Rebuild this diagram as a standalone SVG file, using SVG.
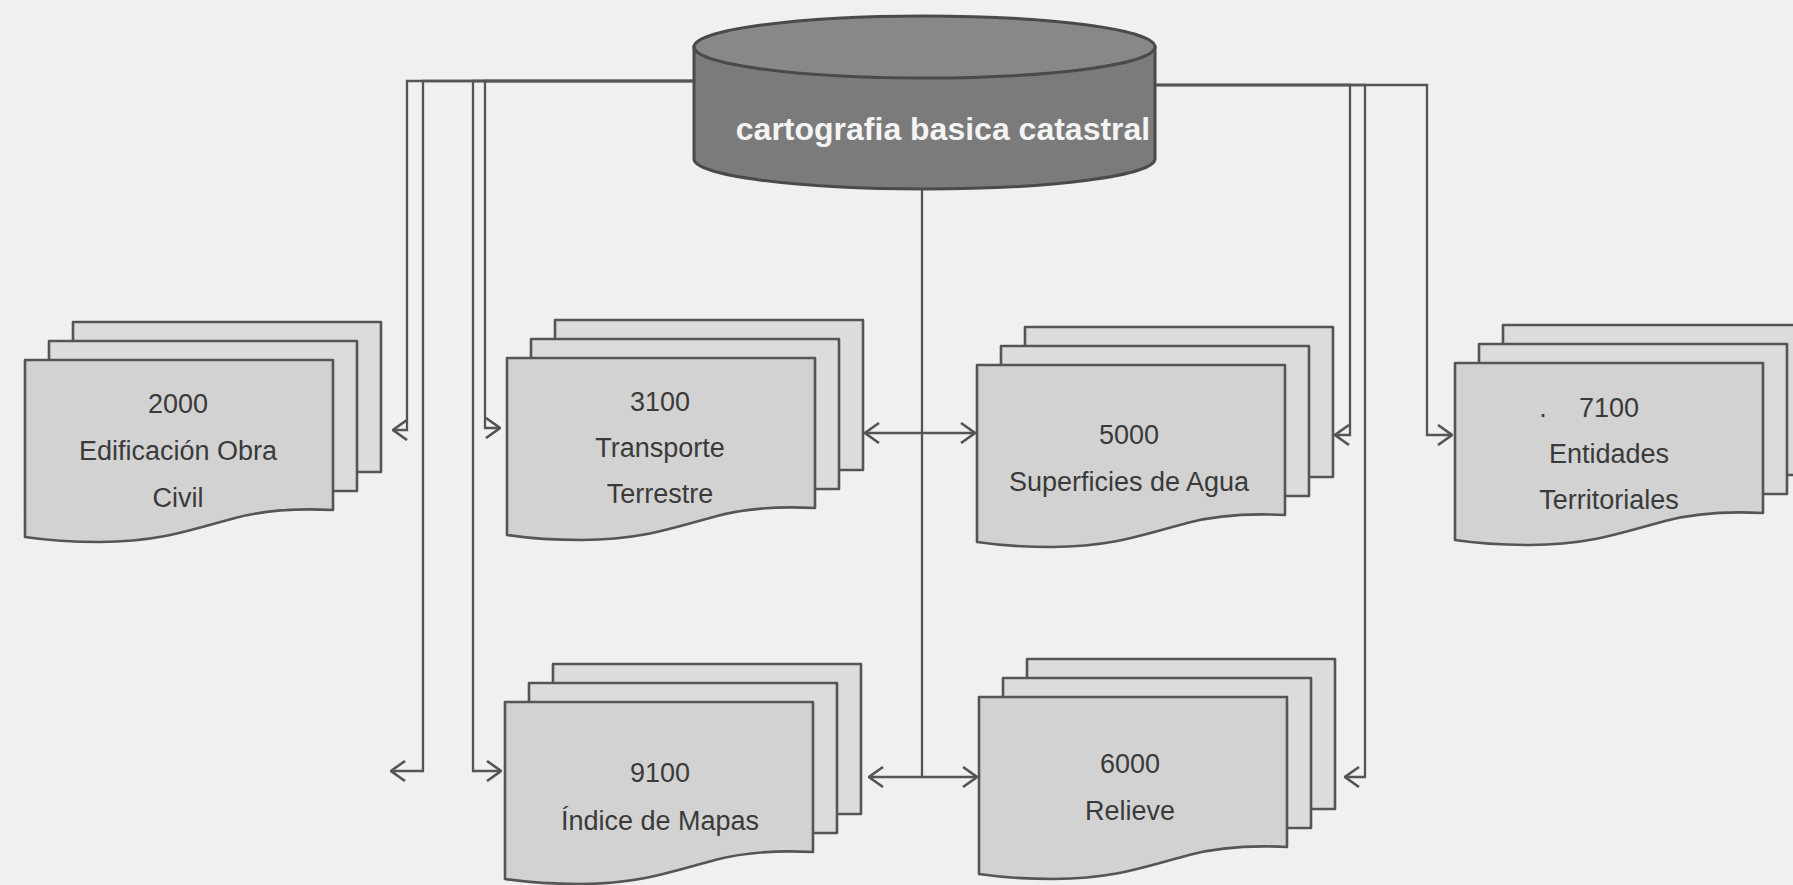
<svg xmlns="http://www.w3.org/2000/svg" width="1793" height="885" viewBox="0 0 1793 885">
<style>
.bg{fill:#f0f0f3}
.sheet{stroke:#555;stroke-width:2.6;stroke-linejoin:round}
.back{fill:#dcdcdc}
.front{fill:#d2d2d2}
.blue .back{fill:#e0e1e6}
.blue .front{fill:#d7d8de}
.lbl{font-family:"Liberation Sans",Arial,sans-serif;font-size:27px;fill:#3a3a3a;text-anchor:middle}
.conn path{fill:none;stroke:#555;stroke-width:2.3}
.title{font-family:"Liberation Sans",Arial,sans-serif;font-size:32px;font-weight:bold;fill:#f4f4f4;text-anchor:middle}
</style>
<defs>
<marker id="arr" viewBox="0 0 16 22" markerWidth="16" markerHeight="22" refX="15" refY="11" orient="auto" markerUnits="userSpaceOnUse">
<path d="M1,1 L15,11 L1,21" fill="none" stroke="#555" stroke-width="2.6"/>
</marker>
<g id="stack">
<rect class="sheet back" x="48" y="-38" width="308" height="150"/>
<rect class="sheet back" x="24" y="-19" width="308" height="150"/>
<path class="sheet front" d="M0,0 H308 V150 C270,148 240,150 210,158 C160,172 130,182 75,182 C45,182 20,180 0,177 Z"/>
</g>
</defs>
<rect class="bg" x="0" y="0" width="1793" height="885"/>

<g id="connectors" class="conn">
<path d="M694,81 H407 V430 H393" marker-end="url(#arr)"/>
<path d="M694,81 H423 V771 H391" marker-end="url(#arr)"/>
<path d="M694,81 H485 V428 H500" marker-end="url(#arr)"/>
<path d="M694,81 H473 V771 H501" marker-end="url(#arr)"/>
<path d="M1155,85 H1350 V435 H1335" marker-end="url(#arr)"/>
<path d="M1155,85 H1365 V777 H1345" marker-end="url(#arr)"/>
<path d="M1155,85 H1427 V435 H1452" marker-end="url(#arr)"/>
<path d="M922,189 V777"/>
<path d="M922,433 H865" marker-end="url(#arr)"/>
<path d="M922,433 H975" marker-end="url(#arr)"/>
<path d="M922,777 H869" marker-end="url(#arr)"/>
<path d="M922,777 H977" marker-end="url(#arr)"/>
</g>

<g id="cartografia">
<path d="M694,47 V159 A230.5,30 0 0 0 1155,159 V47 Z" fill="#7b7b7b" stroke="#4a4a4a" stroke-width="3"/>
<ellipse cx="924.5" cy="47" rx="230.5" ry="31" fill="#888" stroke="#4a4a4a" stroke-width="3"/>
<text class="title" x="943" y="140">cartografia basica catastral</text>
</g>

<g id="n2000">
<use href="#stack" transform="translate(25,360)"/>
<text class="lbl" x="178" y="413">2000</text>
<text class="lbl" x="178" y="460">Edificación Obra</text>
<text class="lbl" x="178" y="507">Civil</text>
</g>

<g id="n3100">
<use href="#stack" transform="translate(507,358)"/>
<text class="lbl" x="660" y="411">3100</text>
<text class="lbl" x="660" y="457">Transporte</text>
<text class="lbl" x="660" y="503">Terrestre</text>
</g>

<g id="n5000" class="blue">
<use href="#stack" transform="translate(977,365)"/>
<text class="lbl" x="1129" y="444">5000</text>
<text class="lbl" x="1129" y="491">Superficies de Agua</text>
</g>

<g id="n7100">
<use href="#stack" transform="translate(1455,363)"/>
<text class="lbl" x="1609" y="417"><tspan x="1543">.</tspan><tspan x="1609">7100</tspan></text>
<text class="lbl" x="1609" y="463">Entidades</text>
<text class="lbl" x="1609" y="509">Territoriales</text>
</g>

<g id="n9100">
<use href="#stack" transform="translate(505,702)"/>
<text class="lbl" x="660" y="782">9100</text>
<text class="lbl" x="660" y="830">Índice de Mapas</text>
</g>

<g id="n6000" class="blue">
<use href="#stack" transform="translate(979,697)"/>
<text class="lbl" x="1130" y="773">6000</text>
<text class="lbl" x="1130" y="820">Relieve</text>
</g>
</svg>
